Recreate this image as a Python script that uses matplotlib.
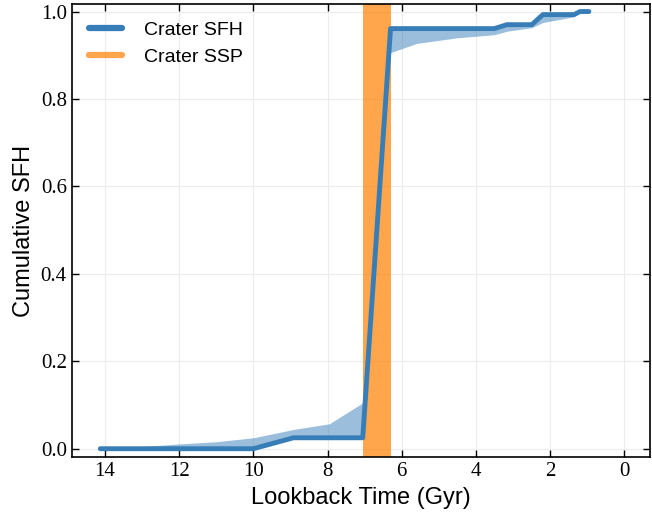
import matplotlib
matplotlib.use('Agg')
import matplotlib.pyplot as plt
from matplotlib.lines import Line2D

# lookback time (Gyr) and cumulative SFH with its band
time = [14.13, 13.0, 12.0, 11.0, 10.0, 8.92, 7.95, 7.05, 6.3, 5.6, 4.5, 3.5, 3.16, 2.49, 2.19, 1.35, 1.19, 0.95]
sfh = [0, 0, 0, 0, 0, 0.025, 0.025, 0.025, 0.961, 0.961, 0.961, 0.961, 0.970, 0.970, 0.993, 0.993, 1.0, 1.0]
sfh_lo = [0, 0, 0, 0, 0, 0.025, 0.025, 0.025, 0.906, 0.927, 0.940, 0.947, 0.955, 0.963, 0.975, 0.988, 1.0, 1.0]
sfh_hi = [0, 0.005, 0.011, 0.016, 0.025, 0.044, 0.057, 0.105, 0.961, 0.961, 0.961, 0.961, 0.970, 0.970, 0.993, 0.993, 1.0, 1.0]

# SSP age range (Gyr)
ssp_range = [7.05, 6.3]

xticks = [14, 12, 10, 8, 6, 4, 2, 0]
yticks = [0.0, 0.2, 0.4, 0.6, 0.8, 1.0]

fig, ax = plt.subplots(figsize=(6.52, 5.14), dpi=100)

ax.fill_between(time, sfh_lo, sfh_hi, color='#377eb8', alpha=0.5, lw=0)
ax.plot(time, sfh, color='#377eb8', lw=3.5, solid_capstyle='round', zorder=3)
ax.axvspan(ssp_range[0], ssp_range[1], color='#ff7f00', alpha=0.7, lw=0)

ax.set_xlim(14.9, -0.7)
ax.set_ylim(-0.02, 1.017)
ax.set_xticks(xticks)
ax.set_yticks(yticks)
ax.set_xticklabels([str(t) for t in xticks], fontfamily='Liberation Serif', fontsize=15)
ax.set_yticklabels(['%.1f' % t for t in yticks], fontfamily='Liberation Serif', fontsize=15)

ax.tick_params(axis='both', direction='in', top=True, right=True, length=5, width=1)
ax.grid(color='#ececec', lw=0.8)
ax.set_axisbelow(True)
for s in ax.spines.values():
    s.set_linewidth(1.2)

ax.set_xlabel('Lookback Time (Gyr)', fontfamily='Liberation Sans', fontsize=17)
ax.set_ylabel('Cumulative SFH', fontfamily='Liberation Sans', fontsize=17)

handles = [Line2D([], [], color='#377eb8', lw=4.5, solid_capstyle='round'),
           Line2D([], [], color='#ff7f00', alpha=0.7, lw=4.5, solid_capstyle='round')]
ax.legend(handles, ['Crater SFH', 'Crater SSP'], loc='upper left', frameon=False,
          prop={'family': 'Liberation Sans', 'size': 14}, handlelength=1.7,
          handletextpad=1.1, labelspacing=0.45, borderaxespad=0.5)

fig.subplots_adjust(left=0.11, right=0.997, top=0.992, bottom=0.11)
fig.savefig('out.png')
